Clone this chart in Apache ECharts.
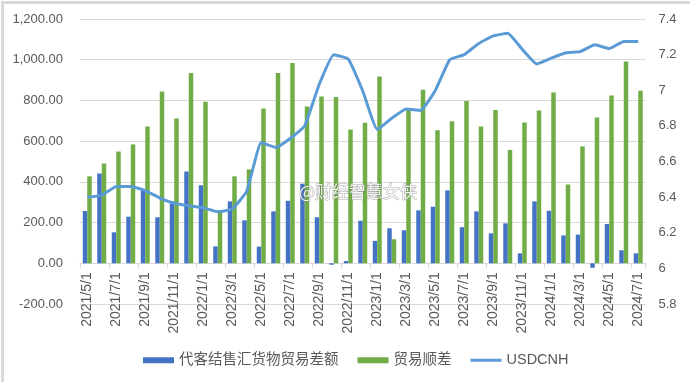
<!DOCTYPE html>
<html>
<head>
<meta charset="utf-8">
<script src="https://cdn.jsdelivr.net/npm/echarts@6/dist/echarts.min.js"></script>
<style>
html,body{margin:0;padding:0;background:#fff;}
#c{width:690px;height:382px;}
</style>
</head>
<body>
<div id="c"></div>
<script>
var categories = ["2021/5/1","2021/6/1","2021/7/1","2021/8/1","2021/9/1","2021/10/1","2021/11/1","2021/12/1",
"2022/1/1","2022/2/1","2022/3/1","2022/4/1","2022/5/1","2022/6/1","2022/7/1","2022/8/1","2022/9/1","2022/10/1","2022/11/1","2022/12/1",
"2023/1/1","2023/2/1","2023/3/1","2023/4/1","2023/5/1","2023/6/1","2023/7/1","2023/8/1","2023/9/1","2023/10/1","2023/11/1","2023/12/1",
"2024/1/1","2024/2/1","2024/3/1","2024/4/1","2024/5/1","2024/6/1","2024/7/1"];
var clientFx = [257,441,152,229,358,226,304,451,383,83,304,211,82,255,307,391,226,-7,11,209,110,172,162,260,278,358,177,255,147,196,49,304,258,137,141,-22,193,64,49];
var tradeSurplus = [427,490,549,584,672,844,711,935,794,260,427,461,760,935,984,770,819,817,657,690,917,118,763,852,654,698,797,672,753,557,691,750,839,387,574,716,824,991,848];
var usdcnh = [6.40,6.41,6.46,6.46,6.437,6.395,6.366,6.351,6.34,6.318,6.334,6.433,6.706,6.679,6.729,6.80,7.034,7.20,7.175,6.996,6.78,6.843,6.895,6.887,6.999,7.171,7.20,7.263,7.305,7.32,7.23,7.148,7.18,7.211,7.217,7.255,7.234,7.274,7.274];
var seriesNames = ["代客结售汇货物贸易差额","贸易顺差","USDCNH"];
var watermark = "@财经智慧女侠";

var gridTop = 19, gridBottom = 78, H = 382;
var plotH = H - gridTop - gridBottom;
var zeroOffset = -plotH * 200 / 1400;

var chart = echarts.init(document.getElementById('c'), null, {renderer:'canvas'});
var txt = '#595959';
chart.setOption({
  backgroundColor:'#fff',
  animation:false,
  grid:{left:80,right:44.5,top:gridTop,bottom:gridBottom,containLabel:false},
  legend:{
    left:138, top:348, itemWidth:31, itemHeight:6, itemGap:19,
    textStyle:{color:txt,fontSize:14.5,fontFamily:'Liberation Sans, Noto Sans CJK SC'},
    data:[
      {name:seriesNames[0],icon:'rect'},
      {name:seriesNames[1],icon:'rect'},
      {name:seriesNames[2],icon:'path://M0,0H31V3H0Z'}
    ]
  },
  xAxis:{
    type:'category', data:categories, boundaryGap:true, position:'bottom', offset:zeroOffset,
    axisLine:{onZero:false,lineStyle:{color:'#d9d9d9',width:1}},
    axisTick:{show:true,interval:1,length:5,lineStyle:{color:'#d9d9d9'}},
    axisLabel:{interval:1,rotate:90,margin:9,color:txt,fontSize:14,fontFamily:'Liberation Sans'}
  },
  yAxis:[
    {type:'value',min:-200,max:1200,interval:200,
     axisLine:{show:false},axisTick:{show:false},
     splitLine:{lineStyle:{color:'#d9d9d9',width:1}},
     axisLabel:{margin:17,color:txt,fontSize:13,fontFamily:'Liberation Sans',
       formatter:function(v){return v.toLocaleString('en-US',{minimumFractionDigits:2,maximumFractionDigits:2});}}},
    {type:'value',min:5.8,max:7.4,interval:0.2,
     axisLine:{show:false},axisTick:{show:false},splitLine:{show:false},
     axisLabel:{margin:13,color:txt,fontSize:13,fontFamily:'Liberation Sans',
       formatter:function(v){return String(Math.round(v*10)/10);}}}
  ],
  series:[
    {name:seriesNames[0],type:'bar',data:clientFx,barWidth:'31%',barGap:'0%',itemStyle:{color:'#4472C4'}},
    {name:seriesNames[1],type:'bar',data:tradeSurplus,barWidth:'31%',barGap:'0%',itemStyle:{color:'#70AD47'}},
    {name:seriesNames[2],type:'line',yAxisIndex:1,data:usdcnh,smooth:0.12,showSymbol:false,symbol:'none',
     lineStyle:{color:'#5B9BD5',width:3},itemStyle:{color:'#5B9BD5'},z:5}
  ],
  graphic:[
    {type:'rect',left:0,top:0,z:100,silent:true,shape:{x:0,y:0,width:690,height:382},
     style:{fill:'none',stroke:'#d9d9d9',lineWidth:3}},
    {type:'text',x:299,y:192,z:100,silent:true,
     style:{text:watermark,fontSize:17,fontFamily:'Noto Sans CJK SC',fill:'rgba(255,255,255,0.9)',
       stroke:'rgba(110,110,110,0.55)',lineWidth:1,verticalAlign:'middle',align:'left'}}
  ]
});
</script>
</body>
</html>
